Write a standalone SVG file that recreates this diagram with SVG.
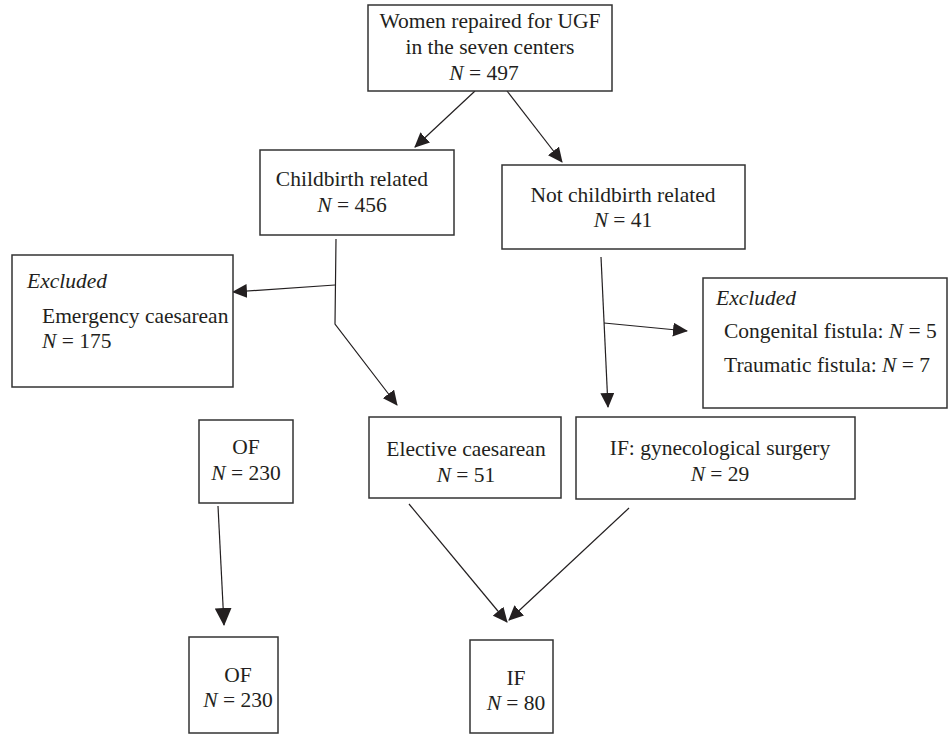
<svg xmlns="http://www.w3.org/2000/svg" width="948" height="735" viewBox="0 0 948 735">
<style>
.box{fill:#fff;stroke:#333;stroke-width:1.5}
.t{font-family:"Liberation Serif","Times New Roman",serif;font-size:21.5px;fill:#231f20}
.c{text-anchor:middle}
.i{font-style:italic}
.ln{fill:none;stroke:#231f20;stroke-width:1.2}
</style>
<defs>
<marker id="ah" markerUnits="userSpaceOnUse" markerWidth="15" markerHeight="14" refX="14" refY="7" orient="auto"><path d="M0,0 L15,7 L0,14 z" fill="#231f20"/></marker>
<marker id="ahb" markerUnits="userSpaceOnUse" markerWidth="18" markerHeight="17" refX="17" refY="8.5" orient="auto"><path d="M0,0 L18,8.5 L0,17 z" fill="#231f20"/></marker>
</defs>
<rect width="948" height="735" fill="#fff"/>
<g id="connectors">
<line class="ln" x1="475" y1="91" x2="415" y2="147" marker-end="url(#ah)"/>
<line class="ln" x1="507" y1="91" x2="562" y2="162" marker-end="url(#ah)"/>
<polyline class="ln" points="336,239 335,324 397,405" marker-end="url(#ah)"/>
<line class="ln" x1="335" y1="285" x2="233" y2="292" marker-end="url(#ah)"/>
<line class="ln" x1="601" y1="257" x2="608" y2="407" marker-end="url(#ah)"/>
<line class="ln" x1="604" y1="323" x2="687" y2="331" marker-end="url(#ah)"/>
<line class="ln" x1="218" y1="506" x2="224" y2="625" marker-end="url(#ahb)"/>
<line class="ln" x1="409" y1="504" x2="507" y2="622" marker-end="url(#ah)"/>
<line class="ln" x1="629" y1="508" x2="509" y2="620" marker-end="url(#ah)"/>
</g>
<g id="top">
<rect class="box" x="368" y="5" width="244" height="86"/>
<text class="t c" x="490" y="28">Women repaired for UGF</text>
<text class="t c" x="490" y="54">in the seven centers</text>
<text class="t c" x="484" y="80"><tspan class="i">N</tspan> = 497</text>
</g>
<g id="childbirth">
<rect class="box" x="260" y="150" width="194" height="85"/>
<text class="t c" x="352" y="186">Childbirth related</text>
<text class="t c" x="352" y="212"><tspan class="i">N</tspan> = 456</text>
</g>
<g id="notchildbirth">
<rect class="box" x="502" y="165" width="243" height="84"/>
<text class="t c" x="623" y="202">Not childbirth related</text>
<text class="t c" x="623" y="227"><tspan class="i">N</tspan> = 41</text>
</g>
<g id="excluded-left">
<rect class="box" x="12" y="255" width="221" height="132"/>
<text class="t i" x="27" y="288">Excluded</text>
<text class="t" x="42" y="323">Emergency caesarean</text>
<text class="t" x="42" y="348"><tspan class="i">N</tspan> = 175</text>
</g>
<g id="excluded-right">
<rect class="box" x="703" y="278" width="244" height="130"/>
<text class="t i" x="716" y="305">Excluded</text>
<text class="t" x="724" y="338">Congenital fistula: <tspan class="i">N</tspan> = 5</text>
<text class="t" x="724" y="372">Traumatic fistula: <tspan class="i">N</tspan> = 7</text>
</g>
<g id="of1">
<rect class="box" x="199" y="420" width="94" height="83"/>
<text class="t c" x="246" y="454">OF</text>
<text class="t c" x="246" y="480"><tspan class="i">N</tspan> = 230</text>
</g>
<g id="elective">
<rect class="box" x="369" y="417" width="192" height="81"/>
<text class="t c" x="466" y="456">Elective caesarean</text>
<text class="t c" x="466" y="482"><tspan class="i">N</tspan> = 51</text>
</g>
<g id="ifgyn">
<rect class="box" x="576" y="417" width="279" height="82"/>
<text class="t c" x="720" y="455">IF: gynecological surgery</text>
<text class="t c" x="720" y="481"><tspan class="i">N</tspan> = 29</text>
</g>
<g id="of2">
<rect class="box" x="189" y="637" width="89" height="96"/>
<text class="t c" x="238" y="682">OF</text>
<text class="t c" x="238" y="707"><tspan class="i">N</tspan> = 230</text>
</g>
<g id="if2">
<rect class="box" x="470" y="640" width="83" height="93"/>
<text class="t c" x="516" y="685">IF</text>
<text class="t c" x="516" y="710"><tspan class="i">N</tspan> = 80</text>
</g>
</svg>
